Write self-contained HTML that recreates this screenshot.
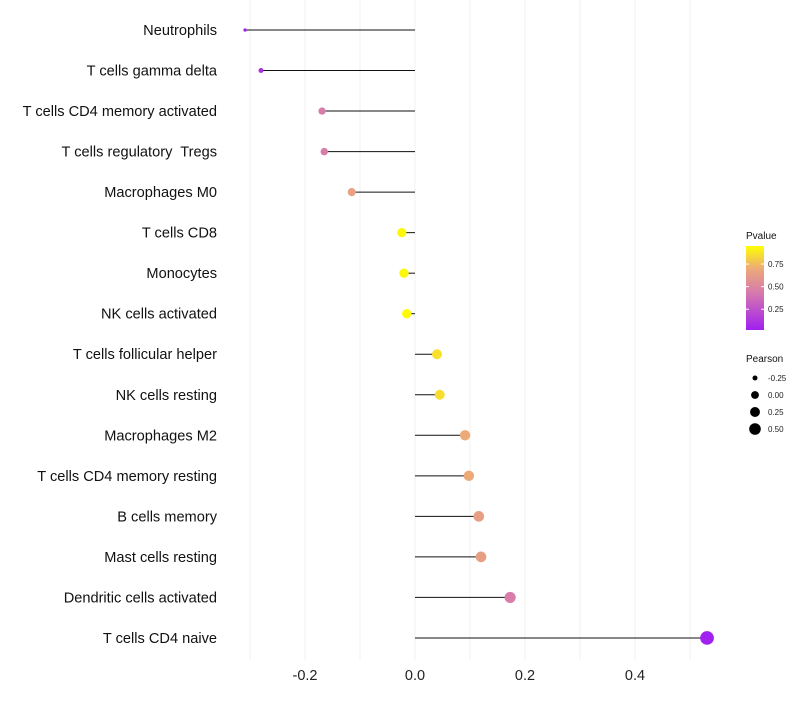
<!DOCTYPE html>
<html><head><meta charset="utf-8"><style>
body{margin:0;background:#fff;font-family:"Liberation Sans",sans-serif}
</style></head><body>
<svg id="c" width="800" height="700" xmlns="http://www.w3.org/2000/svg"></svg>
<script>
const categories=["Neutrophils","T cells gamma delta","T cells CD4 memory activated","T cells regulatory  Tregs","Macrophages M0","T cells CD8","Monocytes","NK cells activated","T cells follicular helper","NK cells resting","Macrophages M2","T cells CD4 memory resting","B cells memory","Mast cells resting","Dendritic cells activated","T cells CD4 naive"];
const pearson=[-0.309,-0.28,-0.169,-0.165,-0.115,-0.024,-0.02,-0.015,0.04,0.045,0.091,0.098,0.116,0.12,0.173,0.531];
const pvalue=[0.03,0.1,0.45,0.45,0.65,0.93,0.93,0.94,0.86,0.85,0.7,0.7,0.64,0.64,0.45,0.03];
const xTicks=[-0.2,0.0,0.2,0.4];
const xTickLabels=["-0.2","0.0","0.2","0.4"];
const legendP=[0.75,0.5,0.25];
const legendPLabels=["0.75","0.50","0.25"];
const legendR=[-0.25,0,0.25,0.5];
const legendRLabels=["-0.25","0.00","0.25","0.50"];

const NS="http://www.w3.org/2000/svg";
const svg=document.getElementById('c');
const X=v=>415+v*550;
const Y=i=>30+i*40.53;
const R=v=>1.5+3.2*Math.sqrt(Math.max(0,(v+0.31)/0.3));
const RL=v=>Math.sqrt(Math.max(2,15.4+36.5*v));
const stops=[[0.02,[160,32,240]],[0.45,[216,125,170]],[0.7,[236,170,120]],[0.95,[255,255,0]]];
function col(p){
  if(p<=stops[0][0])return `rgb(${stops[0][1]})`;
  for(let k=1;k<stops.length;k++){if(p<=stops[k][0]){const a=stops[k-1],b=stops[k],t=(p-a[0])/(b[0]-a[0]);return 'rgb('+a[1].map((c,j)=>Math.round(c+(b[1][j]-c)*t)).join(',')+')';}}
  return `rgb(${stops[3][1]})`;
}
function el(t,a,p){const e=document.createElementNS(NS,t);for(const k in a)e.setAttribute(k,a[k]);(p||svg).appendChild(e);return e;}
for(let g=-0.3;g<=0.55;g+=0.1){
  const l=el('line',{x1:X(g),x2:X(g),y1:0,y2:660,stroke:'#f0f0f0','stroke-width':1});
  
  
}
xTicks.forEach((v,i)=>{
  const t=el('text',{x:X(v),y:680,'text-anchor':'middle','font-size':14.5,fill:'#222'});
  t.textContent=xTickLabels[i];
  
  
});
categories.forEach((c,i)=>{
  const t=el('text',{x:217,y:Y(i)+5,'text-anchor':'end','font-size':14.6,fill:'#111','xml:space':'preserve',style:'white-space:pre'});
  t.textContent=c;
  
  
  const l=el('line',{x1:X(0),x2:X(pearson[i]),y1:Y(i),y2:Y(i),stroke:'#111','stroke-width':1});
  
  
  const d=el('circle',{cx:X(pearson[i]),cy:Y(i),r:R(pearson[i]),fill:col(pvalue[i])});
  
  
});
const defs=el('defs',{});
const lg=el('linearGradient',{id:'pg',x1:0,y1:1,x2:0,y2:0},defs);
stops.forEach(s=>el('stop',{offset:(s[0]-0.02)/0.93,'stop-color':`rgb(${s[1]})`},lg));
const pt=el('text',{x:746,y:239,'font-size':10,fill:'#111'});pt.textContent='Pvalue';


const bar=el('rect',{x:746,y:246,width:18,height:84,fill:'url(#pg)'});


const PY=p=>330-(p-0.02)/0.93*84;
legendP.forEach((p,i)=>{
  el('line',{x1:746,x2:749,y1:PY(p),y2:PY(p),stroke:'#fff'});el('line',{x1:761,x2:764,y1:PY(p),y2:PY(p),stroke:'#fff'});
  const t=el('text',{x:768,y:PY(p)+3,'font-size':8,fill:'#222'});t.textContent=legendPLabels[i];
  
  
});
const rt=el('text',{x:746,y:362,'font-size':10,fill:'#111'});rt.textContent='Pearson';


legendR.forEach((v,i)=>{
  const y=378+i*17;
  const c=el('circle',{cx:755,cy:y,r:RL(v),fill:'#000'});
  
  
  const t=el('text',{x:768,y:y+3,'font-size':8,fill:'#222'});t.textContent=legendRLabels[i];
  
  
});
</script>
</body></html>
